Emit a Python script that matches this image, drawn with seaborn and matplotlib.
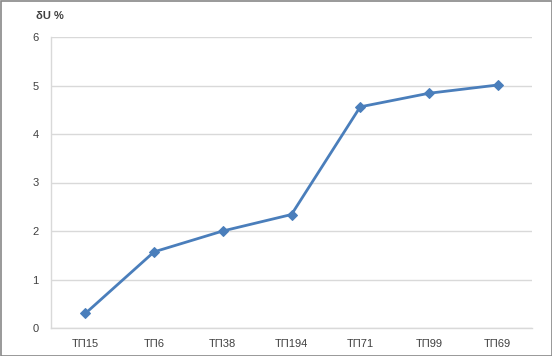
import matplotlib
matplotlib.use("Agg")
import matplotlib.pyplot as plt
import seaborn as sns
import pandas as pd
from matplotlib.patches import Rectangle

categories = ["ТП15", "ТП6", "ТП38", "ТП194", "ТП71", "ТП99", "ТП69"]
values = [0.3, 1.57, 2.0, 2.34, 4.56, 4.84, 5.01]
yticks = [0, 1, 2, 3, 4, 5, 6]

sns.set_theme(style="white")
plt.rcParams['font.family'] = ['Liberation Sans', 'DejaVu Sans']

df = pd.DataFrame({"cat": categories, "val": values})

fig = plt.figure(figsize=(5.52, 3.56), dpi=100)
ax = fig.add_axes([51/552, 1-328/356, (532-51)/552, (328-37)/356])

sns.lineplot(data=df, x="cat", y="val", ax=ax, sort=False, color="#4a7ebb",
             linewidth=2, marker="D", markersize=5.5, markeredgecolor="#4a7ebb")

ax.set_xlim(-0.5, len(categories) - 0.5)
ax.set_ylim(0, 6)
ax.set_yticks(yticks)
ax.set_yticklabels([str(t) for t in yticks])
ax.set_xlabel("")
ax.set_ylabel("")
ax.grid(axis="y", color="#d9d9d9", linewidth=1)
ax.set_axisbelow(True)
for s in ["top", "right"]:
    ax.spines[s].set_visible(False)
ax.spines["left"].set_color("#d9d9d9")
ax.spines["bottom"].set_color("#d9d9d9")
ax.spines["left"].set_linewidth(1)
ax.spines["bottom"].set_linewidth(1)
ax.tick_params(axis="both", length=0, labelsize=8, colors="#404040", pad=8)
ax.tick_params(axis="y", pad=9)

fig.text(36/552, 1-16/356, "δU %", fontsize=8, fontweight="bold", color="#404040",
         ha="left", va="center")

fig.patches.append(Rectangle((0.5/552, 0.5/356), 1-1/552, 1-1/356, transform=fig.transFigure,
                             fill=False, edgecolor="#888888", linewidth=1.2))

fig.savefig("out.png", dpi=100)
